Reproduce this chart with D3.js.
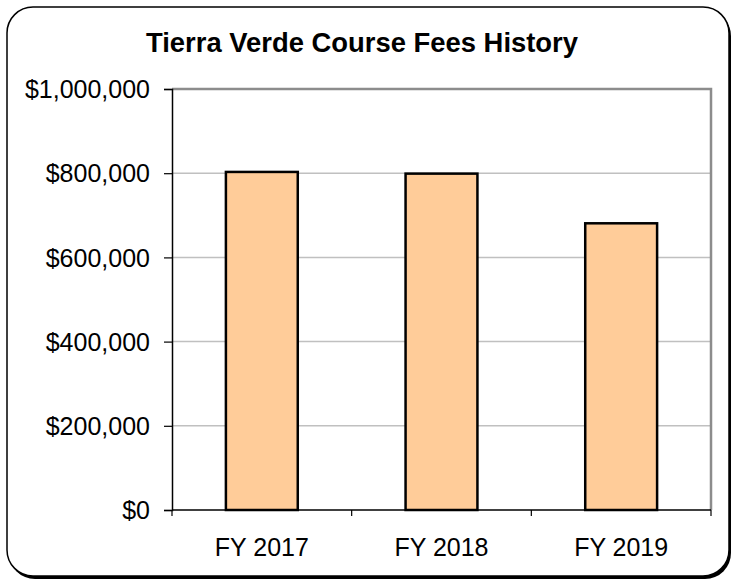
<!DOCTYPE html>
<html>
<head>
<meta charset="utf-8">
<script src="https://cdn.jsdelivr.net/npm/d3@7"></script>
<style>
  html, body { margin: 0; padding: 0; background: #fff; }
  svg { display: block; }
  text { font-family: Arial, "Liberation Sans", sans-serif; }
</style>
</head>
<body>
<svg id="chart" width="734" height="587"></svg>
<script>
// Course fee totals by fiscal year
const categories = ["FY 2017", "FY 2018", "FY 2019"];
const fees = [803000, 799000, 681000];
const yTicks = [0, 200000, 400000, 600000, 800000, 1000000];
const title = "Tierra Verde Course Fees History";

const svg = d3.select("#chart");

// Outer rounded frame with a drop shadow
svg.append("rect")
  .attr("x", 9).attr("y", 10).attr("width", 722).attr("height", 569)
  .attr("rx", 26).attr("ry", 26)
  .attr("fill", "#000");
svg.append("rect")
  .attr("x", 7).attr("y", 7).attr("width", 722).attr("height", 569)
  .attr("rx", 26).attr("ry", 26)
  .attr("fill", "#fff").attr("stroke", "#000").attr("stroke-width", 1.5);

// Title
svg.append("text")
  .attr("x", 362).attr("y", 52)
  .attr("text-anchor", "middle")
  .attr("font-size", 27).attr("font-weight", "bold")
  .attr("textLength", 432).attr("lengthAdjust", "spacingAndGlyphs")
  .attr("fill", "#000")
  .text(title);

const plot = { left: 172, right: 711, top: 89, bottom: 510 };

const x = d3.scaleBand()
  .domain(categories)
  .range([plot.left, plot.right])
  .paddingInner(0.6).paddingOuter(0.3);

const y = d3.scaleLinear()
  .domain([0, 1000000])
  .range([plot.bottom, plot.top]);

// Horizontal gridlines
svg.append("g")
  .selectAll("line")
  .data(yTicks.filter(d => d > 0 && d < 1000000))
  .join("line")
  .attr("x1", plot.left).attr("x2", plot.right)
  .attr("y1", d => y(d)).attr("y2", d => y(d))
  .attr("stroke", "#c0c0c0").attr("stroke-width", 1.5);

// Plot area border (top and right)
svg.append("path")
  .attr("d", `M${plot.left},${plot.top}H${plot.right}V${plot.bottom}`)
  .attr("fill", "none").attr("stroke", "#8c8c8c").attr("stroke-width", 2.5);

// Bars
svg.append("g")
  .selectAll("rect")
  .data(categories.map((c, i) => ({ c, v: fees[i] })))
  .join("rect")
  .attr("x", d => x(d.c))
  .attr("y", d => y(d.v))
  .attr("width", x.bandwidth())
  .attr("height", d => y(0) - y(d.v))
  .attr("fill", "#ffcc99")
  .attr("stroke", "#000").attr("stroke-width", 2.5);

// Y axis
const fmt = d => "$" + d3.format(",")(d);
const yAxis = svg.append("g")
  .attr("transform", `translate(${plot.left},0)`)
  .call(d3.axisLeft(y).tickValues(yTicks).tickFormat(fmt).tickSize(8).tickPadding(14));
yAxis.select(".domain").attr("stroke", "#000").attr("stroke-width", 1.5);
yAxis.selectAll(".tick line").attr("stroke", "#000").attr("stroke-width", 1.2);
yAxis.selectAll(".tick text")
  .attr("font-size", 25).attr("fill", "#000")
  .attr("dy", "0.35em")
  .attr("font-family", "Arial, 'Liberation Sans', sans-serif");

// X axis: ticks at category boundaries
const xAxisG = svg.append("g")
  .attr("transform", `translate(0,${plot.bottom})`);
xAxisG.append("line")
  .attr("x1", plot.left).attr("x2", plot.right)
  .attr("stroke", "#000").attr("stroke-width", 1.5);
const step = (plot.right - plot.left) / categories.length;
xAxisG.selectAll("line.tk")
  .data(d3.range(categories.length + 1))
  .join("line")
  .attr("class", "tk")
  .attr("x1", i => plot.left + i * step).attr("x2", i => plot.left + i * step)
  .attr("y1", 0).attr("y2", 6)
  .attr("stroke", "#000").attr("stroke-width", 1.2);
xAxisG.selectAll("text")
  .data(categories)
  .join("text")
  .attr("x", d => x(d) + x.bandwidth() / 2)
  .attr("y", 46)
  .attr("text-anchor", "middle")
  .attr("font-size", 25).attr("fill", "#000")
  .text(d => d);
</script>
</body>
</html>
